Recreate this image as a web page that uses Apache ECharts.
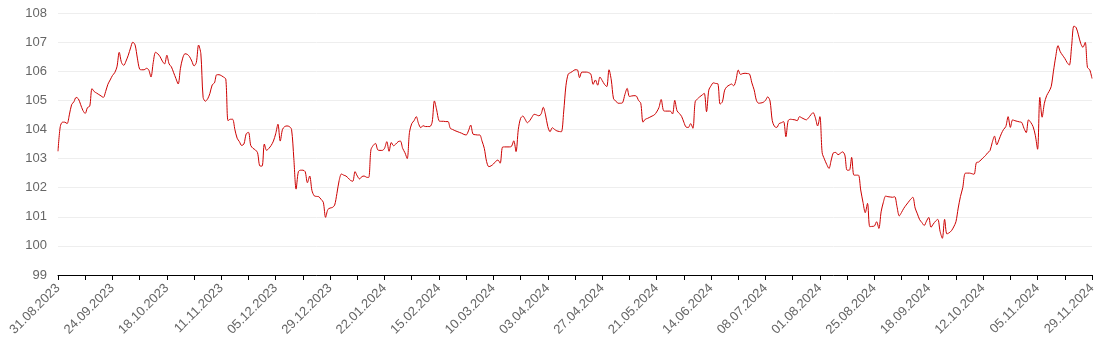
<!DOCTYPE html>
<html>
<head>
<meta charset="utf-8">
<script src="https://cdn.jsdelivr.net/npm/echarts@6/dist/echarts.min.js"></script>
<style>
  html, body { margin: 0; padding: 0; background: #fff; }
  #chart { width: 1109px; height: 352px; }
</style>
</head>
<body>
<div id="chart"></div>
<script>
// daily values 31.08.2023 .. 29.11.2024
var startDate = '2023-08-31';
var dayCount = 457;
var values = [
  103.25,104.1,104.25,104.25,104.2,104.5,104.85,104.95,105.1,105.05,
  104.85,104.65,104.55,104.75,104.8,105.4,105.3,105.25,105.2,105.15,
  105.1,105.3,105.55,105.7,105.85,105.95,106.15,106.65,106.3,106.2,
  106.35,106.55,106.8,107.0,106.9,106.45,106.07,106.05,106.05,106.1,
  106.05,105.8,106.3,106.65,106.6,106.5,106.35,106.25,106.55,106.25,
  106.15,105.95,105.75,105.56,106.1,106.45,106.6,106.58,106.5,106.35,
  106.18,106.3,106.9,106.6,105.1,104.97,105.05,105.24,105.53,105.6,
  105.88,105.88,105.85,105.8,105.73,104.3,104.35,104.35,104.0,103.7,
  103.58,103.45,103.5,103.85,103.9,103.45,103.35,103.3,103.2,102.75,
  102.74,103.5,103.28,103.35,103.45,103.6,103.85,104.18,103.6,104.0,
  104.1,104.12,104.1,104.0,103.0,101.95,102.55,102.6,102.6,102.55,
  102.17,102.4,101.9,101.72,101.7,101.69,101.6,101.5,100.98,101.25,
  101.3,101.32,101.4,101.8,102.25,102.47,102.43,102.4,102.33,102.25,
  102.22,102.55,102.4,102.3,102.38,102.4,102.36,102.35,103.3,103.45,
  103.52,103.3,103.28,103.28,103.35,103.58,103.25,103.55,103.44,103.5,
  103.58,103.6,103.35,103.2,103.0,103.9,104.2,104.3,104.44,104.2,
  104.06,104.13,104.1,104.1,104.1,104.25,104.98,104.67,104.3,104.28,
  104.28,104.27,104.27,104.04,104.0,103.96,103.93,103.9,103.87,103.83,
  103.81,103.95,104.15,103.84,103.82,103.81,103.81,103.6,103.35,102.9,
  102.72,102.75,102.81,102.9,102.95,102.84,103.39,103.4,103.4,103.4,
  103.42,103.61,103.24,104.0,104.38,104.46,104.35,104.23,104.3,104.42,
  104.52,104.5,104.47,104.52,104.76,104.5,104.1,103.92,104.06,104.0,
  103.95,103.93,103.92,104.6,105.5,105.9,105.95,106.0,106.05,106.05,
  105.78,105.97,105.97,105.97,105.95,105.9,105.55,105.7,105.52,105.8,
  105.68,105.55,105.47,106.05,105.7,105.05,104.98,104.9,104.9,104.92,
  105.2,105.41,105.13,105.15,105.16,105.15,105.0,104.9,104.25,104.35,
  104.38,104.42,104.46,104.5,104.6,104.75,105.03,104.65,104.63,104.63,
  104.63,104.53,105.0,104.64,104.55,104.45,104.25,104.08,104.07,104.2,
  104.04,104.95,105.05,105.12,105.18,105.24,104.61,105.35,105.5,105.6,
  105.58,105.57,104.87,104.95,105.35,105.47,105.52,105.56,105.5,105.7,
  106.04,105.89,105.92,105.93,105.92,105.9,105.6,105.36,105.0,104.9,
  104.91,104.93,105.0,105.12,104.98,104.3,104.1,104.07,104.2,104.23,
  104.27,103.75,104.3,104.35,104.34,104.33,104.3,104.44,104.4,104.36,
  104.33,104.4,104.5,104.58,104.4,104.12,104.44,103.2,102.98,102.8,
  102.66,102.95,103.2,103.21,103.13,103.18,103.23,103.12,102.6,102.6,
  103.04,102.43,102.43,102.43,101.92,101.5,101.14,101.46,100.66,100.67,
  100.68,100.83,100.6,101.17,101.5,101.71,101.69,101.68,101.67,101.69,
  101.35,101.03,101.15,101.29,101.4,101.5,101.6,101.67,101.3,101.1,
  100.9,100.8,100.7,100.85,100.98,100.64,100.75,100.85,100.91,100.5,
  100.26,100.91,100.41,100.45,100.52,100.65,100.83,101.3,101.7,102.0,
  102.49,102.5,102.5,102.48,102.46,102.86,102.88,102.95,103.03,103.1,
  103.2,103.27,103.55,103.77,103.47,103.65,103.85,104.0,104.1,104.44,
  104.07,104.33,104.3,104.28,104.26,104.24,104.04,103.89,104.33,104.24,
  104.1,103.8,103.32,105.1,104.42,104.9,105.16,105.3,105.47,106.0,
  106.5,106.88,106.67,106.55,106.44,106.3,106.21,106.85,107.55,107.5,
  107.25,106.96,106.82,106.99,106.13,106.05,105.75
];
var yMin = 99, yMax = 108, yStep = 1;

function pad(n){ return n < 10 ? '0' + n : '' + n; }
var dates = [];
var d = new Date(startDate + 'T12:00:00Z');
for (var i = 0; i < dayCount; i++) {
  dates.push(pad(d.getUTCDate()) + '.' + pad(d.getUTCMonth() + 1) + '.' + d.getUTCFullYear());
  d.setUTCDate(d.getUTCDate() + 1);
}

var myChart = echarts.init(document.getElementById('chart'));
var option = {
  animation: false,
  grid: { left: 58, right: 17, top: 13, bottom: 77 },
  xAxis: {
    type: 'category',
    boundaryGap: false,
    data: dates,
    axisLine: { lineStyle: { color: '#000', width: 1 } },
    axisTick: { show: true, interval: 11, length: 5, lineStyle: { color: '#000' } },
    axisLabel: { interval: 23, rotate: 45, color: '#666', fontSize: 13, fontFamily: 'Arial, Liberation Sans, sans-serif', margin: 11 },
    splitLine: { show: false }
  },
  yAxis: {
    type: 'value',
    min: yMin,
    max: yMax,
    interval: yStep,
    axisLine: { show: false },
    axisTick: { show: false },
    axisLabel: { color: '#666', fontSize: 13, fontFamily: 'Arial, Liberation Sans, sans-serif', margin: 11 },
    splitLine: { lineStyle: { color: '#eee' } }
  },
  series: [{
    type: 'line',
    data: values,
    smooth: 0.3,
    showSymbol: false,
    lineStyle: { color: '#cc0000', width: 1 },
    itemStyle: { color: '#cc0000' }
  }]
};
myChart.setOption(option);
</script>
</body>
</html>
